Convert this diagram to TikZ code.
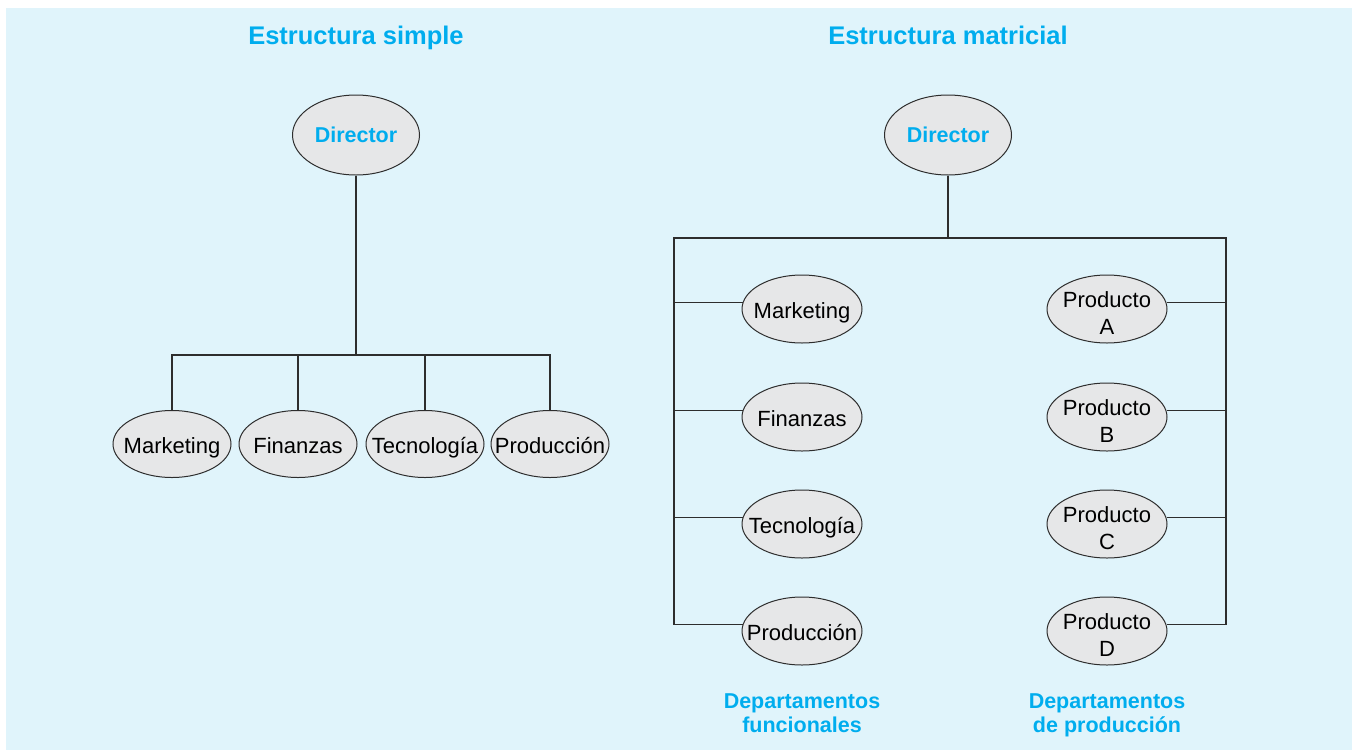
\documentclass[tikz,border=0pt]{standalone}
\usepackage{fontspec}
\setmainfont{Liberation Sans}
\usepackage{tikz}
\usetikzlibrary{shapes.geometric}

\definecolor{capblue}{RGB}{0,173,238}
\definecolor{panelbg}{RGB}{224,244,251}
\definecolor{ovalgray}{RGB}{230,231,232}
\definecolor{inkgray}{RGB}{45,45,45}

\newcommand{\deptfont}{\fontsize{22}{27}\selectfont}
\newcommand{\capfont}{\fontsize{21.5}{24}\selectfont\bfseries}
\newcommand{\headfont}{\fontsize{25.5}{30}\selectfont\bfseries}

\tikzset{
  dept/.style={ellipse, draw=inkgray, line width=1pt, fill=ovalgray,
    minimum width=118, minimum height=67, inner sep=0pt},
  mdept/.style={dept, minimum width=120, minimum height=68},
  boss/.style={dept, minimum width=127, minimum height=80, text=capblue, font=\capfont},
  one/.style={text height=16pt, text depth=5pt, yshift=-4pt},
  two/.style={align=center, yshift=-4pt},
  head/.style={text=capblue, font=\headfont, anchor=base, inner sep=0pt},
  foot/.style={text=capblue, font=\capfont, align=center, anchor=north, inner sep=0pt},
  wire/.style={draw=inkgray, line width=1.2pt}
}

\begin{document}
\begin{tikzpicture}[x=1pt, y=-1pt, font=\deptfont]

% page and panel
\useasboundingbox (0,0) rectangle (1352,750);
\fill[white] (0,0) rectangle (1352,750);
\fill[panelbg] (6,8) rectangle (1352,750);

% titles
\node[head] (tsimple) at (356,44) {Estructura simple};
\node[head] (tmatrix) at (948,44) {Estructura matricial};

% ---- estructura simple ----

% director
\node[boss] (sdir) at (356,135) {Director};

% departments
\node[dept, label={[one]center:Marketing}] (smk) at (172,444) {};
\node[dept, label={[one]center:Finanzas}] (sfi) at (298,444) {};
\node[dept, label={[one]center:Tecnología}] (ste) at (425,444) {};
\node[dept, label={[one]center:Producción}] (spr) at (550,444) {};

% bar under director
\coordinate (sbar) at (356,355);
\draw[wire] (sdir.south) -- (sbar);
\draw[wire] (smk.north) |- (sbar) -| (spr.north);
\draw[wire] (sfi.north) -- (sfi.north |- sbar);
\draw[wire] (ste.north) -- (ste.north |- sbar);

% ---- estructura matricial ----

% director
\node[boss] (mdir) at (948,135) {Director};

% functional departments
\node[mdept, label={[one]center:Marketing}] (mmk) at (802,309) {};
\node[mdept, label={[one]center:Finanzas}] (mfi) at (802,417) {};
\node[mdept, label={[one]center:Tecnología}] (mte) at (802,524) {};
\node[mdept, label={[one]center:Producción}] (mpr) at (802,631) {};

% product departments
\node[mdept, label={[two]center:{Producto\\A}}] (mpa) at (1107,309) {};
\node[mdept, label={[two]center:{Producto\\B}}] (mpb) at (1107,417) {};
\node[mdept, label={[two]center:{Producto\\C}}] (mpc) at (1107,524) {};
\node[mdept, label={[two]center:{Producto\\D}}] (mpd) at (1107,631) {};

% frame
\coordinate (mtl) at (674,238);
\coordinate (mtr) at (1226,238);
\draw[wire] (mdir.south) -- (mdir.south |- mtl);
\draw[wire] (mpr.174) -| (mtl) -- (mtr) |- (mpd.6);

% left branches
\draw[wire] (mmk.174) -- (mmk.174 -| mtl);
\draw[wire] (mfi.174) -- (mfi.174 -| mtl);
\draw[wire] (mte.174) -- (mte.174 -| mtl);

% right branches
\draw[wire] (mpa.6) -- (mpa.6 -| mtr);
\draw[wire] (mpb.6) -- (mpb.6 -| mtr);
\draw[wire] (mpc.6) -- (mpc.6 -| mtr);

% captions
\node[foot] (ffunc) at (802,693) {Departamentos\\funcionales};
\node[foot] (fprod) at (1107,693) {Departamentos\\de producción};

\end{tikzpicture}
\end{document}
